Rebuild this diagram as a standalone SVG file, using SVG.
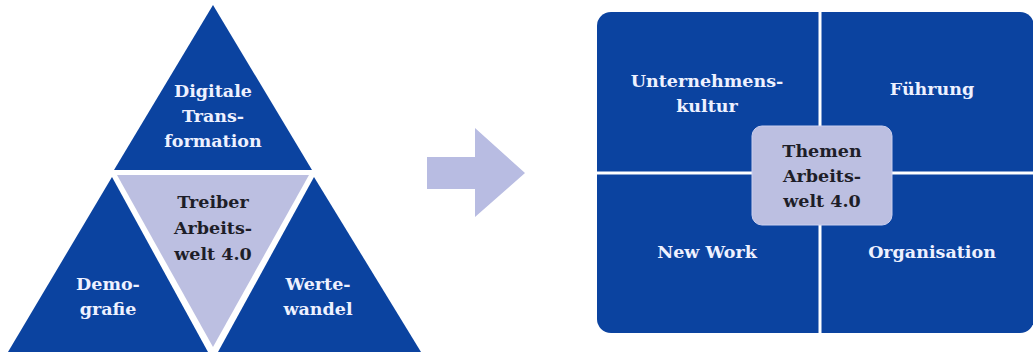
<svg xmlns="http://www.w3.org/2000/svg" width="1033" height="356" viewBox="0 0 1033 356">
  <style>
    .blue { fill: #0b43a0; }
    .pale { fill: #bcbfe1; }
    .t { font-family: "DejaVu Serif", "Liberation Serif", serif; font-size: 17.5px; font-weight: bold; text-anchor: middle; }
    .tw { fill: #eef1ff; }
    .td { fill: #1e1e28; }
  </style>
  <rect width="1033" height="356" fill="#ffffff"/>

  <!-- Driver triangle -->
  <g id="digitale-transformation">
    <polygon class="blue" points="213,5 312,170 114,170"/>
    <text class="t tw" x="213" y="97">Digitale</text>
    <text class="t tw" x="213" y="122">Trans-</text>
    <text class="t tw" x="213" y="147">formation</text>
  </g>
  <g id="treiber">
    <polygon class="pale" points="117,175 309,175 213,347"/>
    <text class="t td" x="213" y="208">Treiber</text>
    <text class="t td" x="213" y="234">Arbeits-</text>
    <text class="t td" x="213" y="260">welt 4.0</text>
  </g>
  <g id="demografie">
    <polygon class="blue" points="112,177 208,352 8,352"/>
    <text class="t tw" x="108" y="290">Demo-</text>
    <text class="t tw" x="108" y="315">grafie</text>
  </g>
  <g id="wertewandel">
    <polygon class="blue" points="314,177 421,352 218,352"/>
    <text class="t tw" x="318" y="290">Werte-</text>
    <text class="t tw" x="318" y="315">wandel</text>
  </g>

  <!-- Transition arrow -->
  <g id="connectors">
    <polygon fill="#b8bce2" points="427,157 475,157 475,128 525,173 475,217 475,189 427,189"/>
  </g>

  <!-- Topic panel -->
  <g id="themen-panel">
    <rect class="blue" x="597" y="12" width="437" height="321" rx="14"/>
    <line x1="820" y1="12" x2="820" y2="333" stroke="#ffffff" stroke-width="3"/>
    <line x1="597" y1="173" x2="1033" y2="173" stroke="#ffffff" stroke-width="3"/>
  </g>
  <g id="unternehmenskultur">
    <text class="t tw" x="707" y="87">Unternehmens-</text>
    <text class="t tw" x="707" y="112">kultur</text>
  </g>
  <g id="fuehrung">
    <text class="t tw" x="932" y="95">Führung</text>
  </g>
  <g id="new-work">
    <text class="t tw" x="707" y="258">New Work</text>
  </g>
  <g id="organisation">
    <text class="t tw" x="932" y="258">Organisation</text>
  </g>
  <g id="themen">
    <rect class="pale" x="752" y="126" width="140" height="99" rx="10" stroke="#ccd0ef" stroke-width="1"/>
    <text class="t td" x="822" y="157">Themen</text>
    <text class="t td" x="822" y="182">Arbeits-</text>
    <text class="t td" x="822" y="207">welt 4.0</text>
  </g>
</svg>
